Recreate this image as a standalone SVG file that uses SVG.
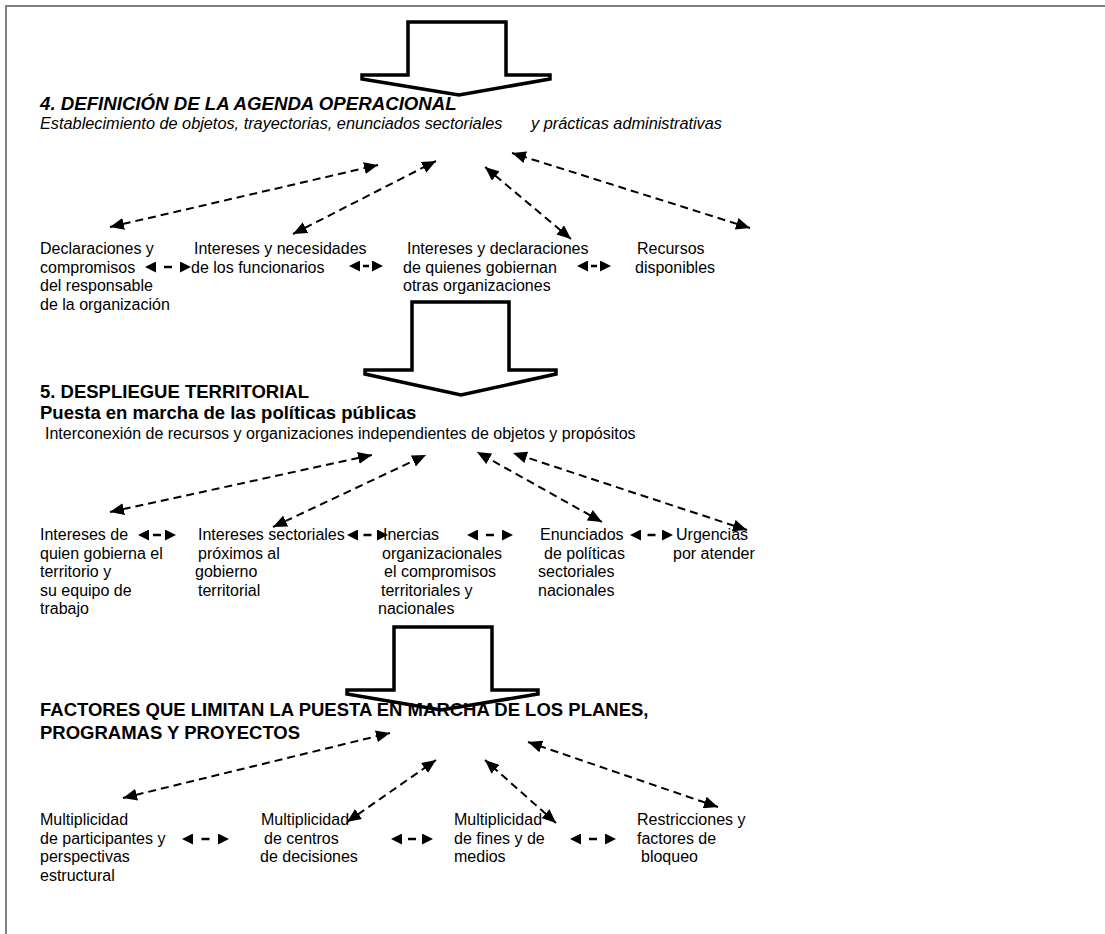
<svg xmlns="http://www.w3.org/2000/svg" width="1105" height="934" viewBox="0 0 1105 934">
<style>
.t{font-family:"Liberation Sans",Arial,Helvetica,sans-serif;font-size:16px;fill:#000}
.h{font-size:18.5px;font-weight:bold}
.h1{font-size:18.67px;font-weight:bold}
.it{font-style:italic}
.sub{font-size:16.3px}
.big{fill:none;stroke:#000;stroke-width:3.5;stroke-linejoin:miter;stroke-miterlimit:20}
.dc{fill:none;stroke:#000;stroke-width:2;stroke-dasharray:8 5;marker-start:url(#ah);marker-end:url(#ah)}
.sm{fill:none;stroke:#000;stroke-width:2.5;marker-start:url(#ah2);marker-end:url(#ah2)}
.frame{stroke:#808080;stroke-width:2;fill:none}
</style>
<defs>
<marker id="ah" viewBox="0 0 14 12" refX="14" refY="6" markerWidth="14" markerHeight="12" markerUnits="userSpaceOnUse" orient="auto-start-reverse">
<path d="M0,0 L14,6 L0,12 Z" fill="#000"/>
</marker>
<marker id="ah2" viewBox="0 0 11 11" refX="11" refY="5.5" markerWidth="11" markerHeight="11" markerUnits="userSpaceOnUse" orient="auto-start-reverse">
<path d="M0,0 L11,5.5 L0,11 Z" fill="#000"/>
</marker>
</defs>
<rect width="1105" height="934" fill="#fff"/>
<path class="frame" d="M6,934 V6 H1105"/>

<g id="flow-arrows">
<polygon class="big" points="408,22 506,22 506,75 550,75 550,79 459,95 362,79 362,75 408,75"/>
<polygon class="big" points="412,302 509,302 509,370 556,370 556,374 461,395 365,374 365,370 412,370"/>
<polygon class="big" points="394,627 492,627 492,690 538,690 538,694 441,710 347,694 347,690 394,690"/>
</g>

<g id="connectors">
<line class="dc" x1="110" y1="227" x2="378" y2="165"/>
<line class="dc" x1="293" y1="234" x2="436" y2="161"/>
<line class="dc" x1="571" y1="239" x2="485" y2="167"/>
<line class="dc" x1="750" y1="228" x2="512" y2="153"/>
<line class="dc" x1="110" y1="512" x2="372" y2="455"/>
<line class="dc" x1="273" y1="527" x2="426" y2="455"/>
<line class="dc" x1="602" y1="522" x2="477" y2="452"/>
<line class="dc" x1="747" y1="530" x2="513" y2="453"/>
<line class="dc" x1="123" y1="798" x2="390" y2="733"/>
<line class="dc" x1="347" y1="822" x2="436" y2="760"/>
<line class="dc" x1="556" y1="823" x2="485" y2="760"/>
<line class="dc" x1="718" y1="807" x2="528" y2="742"/>
<line class="sm" x1="145" y1="267" x2="191" y2="267" style="stroke-dasharray:0 19 8 100"/>
<line class="sm" x1="349" y1="266" x2="383" y2="266" style="stroke-dasharray:0 14 6 100"/>
<line class="sm" x1="577" y1="266" x2="611" y2="266" style="stroke-dasharray:0 14 6 100"/>
<line class="sm" x1="138" y1="535" x2="176" y2="535" style="stroke-dasharray:0 15 8 100"/>
<line class="sm" x1="347" y1="535" x2="388" y2="535" style="stroke-dasharray:0 16.5 8 100"/>
<line class="sm" x1="467" y1="535" x2="513" y2="535" style="stroke-dasharray:0 19 8 100"/>
<line class="sm" x1="630" y1="535" x2="673" y2="535" style="stroke-dasharray:0 17.5 8 100"/>
<line class="sm" x1="182" y1="839" x2="229" y2="839" style="stroke-dasharray:0 19.5 8 100"/>
<line class="sm" x1="391" y1="839" x2="433" y2="839" style="stroke-dasharray:0 17 8 100"/>
<line class="sm" x1="570" y1="839" x2="616" y2="839" style="stroke-dasharray:0 19 8 100"/>
</g>

<g id="agenda-operacional">
<text class="t h1 it" x="40" y="110">4. DEFINICIÓN DE LA AGENDA OPERACIONAL</text>
<text class="t it sub" x="40" y="128.5">Establecimiento de objetos, trayectorias, enunciados sectoriales</text>
<text class="t it sub" x="531" y="128.5">y prácticas administrativas</text>
</g>
<g id="n-declaraciones">
<text class="t" x="40" y="254">Declaraciones y</text>
<text class="t" x="40" y="272.5">compromisos</text>
<text class="t" x="40" y="291">del responsable</text>
<text class="t" x="40" y="309.5">de la organización</text>
</g>
<g id="n-funcionarios">
<text class="t" x="194" y="254">Intereses y necesidades</text>
<text class="t" x="191" y="272.5">de los funcionarios</text>
</g>
<g id="n-otras-org">
<text class="t" x="407" y="254">Intereses y declaraciones</text>
<text class="t" x="403" y="272.5">de quienes gobiernan</text>
<text class="t" x="403" y="291">otras organizaciones</text>
</g>
<g id="n-recursos">
<text class="t" x="637" y="254">Recursos</text>
<text class="t" x="635" y="272.5">disponibles</text>
</g>

<g id="despliegue-territorial">
<text class="t h" x="40" y="398">5. DESPLIEGUE TERRITORIAL</text>
<text class="t h" x="40" y="419">Puesta en marcha de las políticas públicas</text>
<text class="t" x="45" y="439">Interconexión de recursos y organizaciones independientes de objetos y propósitos</text>
</g>
<g id="n-quien-gobierna">
<text class="t" x="40" y="540">Intereses de</text>
<text class="t" x="40" y="558.5">quien gobierna el</text>
<text class="t" x="40" y="577">territorio y</text>
<text class="t" x="40" y="595.5">su equipo de</text>
<text class="t" x="40" y="614">trabajo</text>
</g>
<g id="n-sectoriales">
<text class="t" x="198" y="540">Intereses sectoriales</text>
<text class="t" x="198" y="558.5">próximos al</text>
<text class="t" x="195" y="577">gobierno</text>
<text class="t" x="198" y="595.5">territorial</text>
</g>
<g id="n-inercias">
<text class="t" x="383" y="540">Inercias</text>
<text class="t" x="382" y="558.5">organizacionales</text>
<text class="t" x="384" y="577">el compromisos</text>
<text class="t" x="381" y="595.5">territoriales y</text>
<text class="t" x="378" y="614">nacionales</text>
</g>
<g id="n-enunciados">
<text class="t" x="540" y="540">Enunciados</text>
<text class="t" x="544" y="558.5">de políticas</text>
<text class="t" x="538" y="577">sectoriales</text>
<text class="t" x="538" y="595.5">nacionales</text>
</g>
<g id="n-urgencias">
<text class="t" x="676" y="540">Urgencias</text>
<text class="t" x="673" y="558.5">por atender</text>
</g>

<g id="factores">
<text class="t h" x="40" y="716">FACTORES QUE LIMITAN LA PUESTA EN MARCHA DE LOS PLANES,</text>
<text class="t h" x="40" y="739">PROGRAMAS Y PROYECTOS</text>
</g>
<g id="n-participantes">
<text class="t" x="40" y="825">Multiplicidad</text>
<text class="t" x="40" y="843.5">de participantes y</text>
<text class="t" x="40" y="862">perspectivas</text>
<text class="t" x="40" y="880.5">estructural</text>
</g>
<g id="n-centros">
<text class="t" x="261" y="825">Multiplicidad</text>
<text class="t" x="264" y="843.5">de centros</text>
<text class="t" x="260" y="862">de decisiones</text>
</g>
<g id="n-fines">
<text class="t" x="454" y="825">Multiplicidad</text>
<text class="t" x="454" y="843.5">de fines y de</text>
<text class="t" x="454" y="862">medios</text>
</g>
<g id="n-restricciones">
<text class="t" x="637" y="825">Restricciones y</text>
<text class="t" x="637" y="843.5">factores de</text>
<text class="t" x="641" y="862">bloqueo</text>
</g>
</svg>
